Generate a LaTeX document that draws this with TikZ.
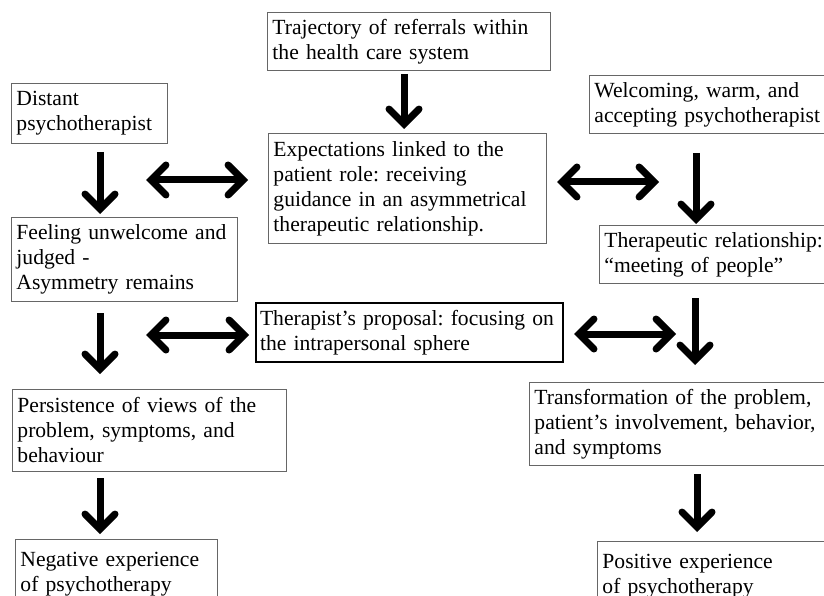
\documentclass[tikz,border=0pt]{standalone}
\usepackage{fontspec}
\setmainfont{Liberation Serif}
\usetikzlibrary{arrows.meta}
\frenchspacing
\begin{document}
\begin{tikzpicture}[x=1pt,y=-1pt,
  box/.style={draw=black!60, line width=0.9pt, anchor=north west, inner xsep=5pt, inner ysep=0pt, align=left, font=\fontsize{21.6}{25}\selectfont},
  thickbox/.style={box, draw=black, line width=2pt},
  tip/.tip={Straight Barb[length=15pt,width=30pt,line cap=round,line join=miter]},
  darr/.style={line width=7pt, -tip},
  dbl/.style={line width=7pt, tip-tip}
]
\useasboundingbox (0,0) rectangle (824,596);
\fill[white] (0,0) rectangle (824,596);
\clip (0,0) rectangle (824,596);

\node[box, minimum width=283pt, minimum height=58pt, text width=273pt] (traj) at (267,12) {Trajectory of referrals within\\the health care system};
\node[box, minimum width=156pt, minimum height=60pt, text width=146pt] (dist) at (11,83) {Distant\\psychotherapist};
\node[box, minimum width=278pt, minimum height=110pt, text width=268pt] (exp) at (268,133) {Expectations linked to the\\patient role: receiving\\guidance in an asymmetrical\\therapeutic relationship.};
\node[box, minimum width=250pt, minimum height=58pt, text width=240pt] (welc) at (589,75) {Welcoming, warm, and\\accepting psychotherapist};
\node[box, minimum width=226pt, minimum height=84pt, text width=216pt] (feel) at (11,217) {Feeling unwelcome and\\judged -\\Asymmetry remains};
\node[box, minimum width=240pt, minimum height=58pt, text width=230pt] (ther) at (599,225) {Therapeutic relationship:\\“meeting of people”};
\node[thickbox, minimum width=307pt, minimum height=59pt, text width=299pt, inner xsep=4pt] (prop) at (255,302) {\mbox{Therapist’s proposal: focusing on}\\the intrapersonal sphere};
\node[box, minimum width=274pt, minimum height=82pt, text width=264pt] (pers) at (12,389) {Persistence of views of the\\problem, symptoms, and\\behaviour};
\node[box, minimum width=310pt, minimum height=83pt, text width=300pt] (trans) at (529,382) {Transformation of the problem,\\\mbox{patient’s involvement, behavior,}\\and symptoms};
\node[box, minimum width=202pt, minimum height=70pt, text width=192pt] (neg) at (15,539) {Negative experience\\of psychotherapy};
\node[box, minimum width=240pt, minimum height=70pt, text width=230pt] (pos) at (597,541) {Positive experience\\of psychotherapy};

\coordinate (t1) at (404,74);  \coordinate (t2) at (404,129);
\coordinate (d1) at (100,152); \coordinate (d2) at (100,214);
\coordinate (h1) at (146,180); \coordinate (h2) at (248,180);
\coordinate (h3) at (557,182); \coordinate (h4) at (659,182);
\coordinate (w1) at (696,153); \coordinate (w2) at (696,224);
\coordinate (f1) at (100,313); \coordinate (f2) at (100,374);
\coordinate (h5) at (146,335); \coordinate (h6) at (249,335);
\coordinate (h7) at (574,334); \coordinate (h8) at (676,334);
\coordinate (r1) at (695,298); \coordinate (r2) at (695,365);
\coordinate (p1) at (100,478); \coordinate (p2) at (100,534);
\coordinate (s1) at (697,474); \coordinate (s2) at (697,532);

\draw[darr] (t1) -- (t2);
\draw[darr] (d1) -- (d2);
\draw[dbl] (h1) -- (h2);
\draw[dbl] (h3) -- (h4);
\draw[darr] (w1) -- (w2);
\draw[darr] (f1) -- (f2);
\draw[dbl] (h5) -- (h6);
\draw[dbl] (h7) -- (h8);
\draw[darr] (r1) -- (r2);
\draw[darr] (p1) -- (p2);
\draw[darr] (s1) -- (s2);
\end{tikzpicture}
\end{document}
